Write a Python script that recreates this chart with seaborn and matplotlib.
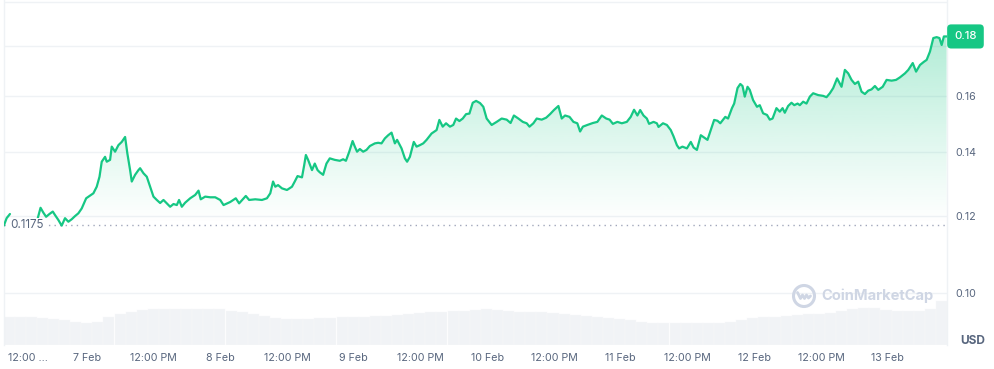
import numpy as np
import pandas as pd
import matplotlib
matplotlib.use("Agg")
import matplotlib.pyplot as plt
import matplotlib.transforms as mtransforms
from matplotlib.path import Path
from matplotlib.patches import Ellipse
from matplotlib.lines import Line2D
from matplotlib.ticker import NullLocator
import seaborn as sns

# ---------------- data (hours since 6 Feb 00:00, price in USD) ----------------
hours = [9.1, 9.6, 10.2,
         15.2, 15.7, 16.2, 16.7, 17.3, 17.9, 18.3, 18.9, 19.5, 20.1, 20.7, 21.3, 21.9, 22.5,
         23.1, 23.9, 24.5, 25.2, 25.8, 26.3, 26.7, 27.3, 27.6, 28.2, 28.5, 29.1, 29.7, 30.3, 30.9,
         31.3, 31.8, 32.1, 32.7, 33.3, 33.6, 34.2, 34.8, 35.4, 36.0, 36.6, 37.2,
         37.8, 38.4, 39.0, 39.6, 40.2, 40.6, 41.1, 41.7, 42.6, 43.5, 44.1, 44.5,
         45.3, 46.2, 47.1, 48.0, 48.6, 49.8, 50.8, 51.4, 52.6, 53.2, 54.3, 55.5, 56.4,
         57.0, 57.5, 57.9, 58.4, 59.1, 60.0, 60.9, 61.4, 61.9, 62.7, 63.1, 63.4, 63.8, 64.5, 65.0, 65.5, 65.9,
         66.5, 67.1, 67.7, 68.6, 69.5, 70.1, 70.6, 71.2, 71.8, 72.2, 72.6, 73.1, 73.7, 74.3, 74.9, 75.8, 76.4, 77.0, 77.6, 78.2, 78.8,
         79.4, 79.8, 80.6, 81.2, 81.6, 82.1, 82.8, 83.3, 83.9, 84.5, 85.1, 86.0, 86.9, 87.4,
         88.0, 88.6, 89.3, 89.9, 90.4, 91.0, 91.6, 92.2, 92.8, 93.4, 94.0, 94.7,
         95.3, 95.9, 96.8, 97.7, 98.6, 99.5, 100.2, 100.8, 101.6, 102.4, 103.1, 103.6, 104.3, 104.9, 105.8,
         106.6, 107.3, 108.0, 108.8, 109.4, 110.0, 110.8, 111.5, 112.2, 112.7, 113.2, 114.0, 115.0, 115.8,
         116.6, 117.4, 118.0, 118.6, 119.4, 120.2, 121.1, 121.8, 122.4, 123.0, 123.5,
         124.1, 124.7, 125.1, 125.9, 126.5, 126.8, 127.6, 128.3, 129.0, 129.5, 130.1, 130.5, 131.1, 131.9, 132.6, 133.1, 133.7,
         134.4, 135.0, 135.6, 136.2, 136.8, 137.4, 137.9, 138.8, 139.3, 140.0, 140.4, 141.0, 141.5, 141.9, 142.3, 142.8, 143.2,
         143.8, 144.5, 145.0, 145.6, 146.3, 146.8, 147.3, 148.0, 148.6, 149.1, 149.5, 150.1, 150.7, 151.2, 151.8, 152.2,
         152.8, 153.4, 154.0, 154.6, 155.5, 156.4, 157.0, 157.6, 158.2, 158.9, 159.7, 160.3, 160.9, 161.5, 162.1, 162.7,
         163.3, 163.9, 164.5, 165.1, 165.7, 166.3, 167.1, 167.8, 168.7, 169.5, 170.2, 171.1,
         171.7, 172.5, 173.1, 173.8, 174.5, 175.0, 175.6, 176.2, 176.8, 177.3, 177.7, 178.1, 178.6]

price = [0.1174, 0.1195, 0.1207,
         0.1195, 0.1225, 0.1211, 0.1199, 0.1207, 0.1214, 0.1204, 0.1190, 0.1174, 0.1195, 0.1185, 0.1192, 0.1201, 0.1209,
         0.1223, 0.1253, 0.1260, 0.1268, 0.1288, 0.1319, 0.1367, 0.1383, 0.1367, 0.1373, 0.1417, 0.1400, 0.1422, 0.1433, 0.1450,
         0.1395, 0.1340, 0.1304, 0.1325, 0.1340, 0.1346, 0.1330, 0.1319, 0.1288, 0.1258, 0.1248, 0.1239,
         0.1248, 0.1238, 0.1228, 0.1236, 0.1233, 0.1248, 0.1228, 0.1240, 0.1253, 0.1263, 0.1276, 0.1250,
         0.1258, 0.1256, 0.1256, 0.1248, 0.1233, 0.1242, 0.1253, 0.1238, 0.1260, 0.1248, 0.1250, 0.1248, 0.1253,
         0.1268, 0.1304, 0.1288, 0.1293, 0.1283, 0.1278, 0.1288, 0.1304, 0.1321, 0.1317, 0.1356, 0.1389, 0.1373, 0.1340, 0.1361, 0.1340, 0.1333,
         0.1325, 0.1361, 0.1378, 0.1373, 0.1370, 0.1375, 0.1370, 0.1400, 0.1436, 0.1417, 0.1400, 0.1409, 0.1400, 0.1406, 0.1419, 0.1428, 0.1430, 0.1428, 0.1445, 0.1456, 0.1465,
         0.1428, 0.1440, 0.1411, 0.1378, 0.1367, 0.1383, 0.1433, 0.1417, 0.1422, 0.1428, 0.1440, 0.1462, 0.1474, 0.1510,
         0.1486, 0.1498, 0.1486, 0.1492, 0.1515, 0.1506, 0.1515, 0.1531, 0.1533, 0.1573, 0.1580, 0.1572,
         0.1558, 0.1515, 0.1492, 0.1503, 0.1515, 0.1511, 0.1499, 0.1526, 0.1515, 0.1503, 0.1498, 0.1486, 0.1498, 0.1515, 0.1511,
         0.1518, 0.1531, 0.1546, 0.1561, 0.1515, 0.1526, 0.1521, 0.1503, 0.1498, 0.1469, 0.1486, 0.1492, 0.1499, 0.1503,
         0.1526, 0.1515, 0.1511, 0.1496, 0.1503, 0.1498, 0.1503, 0.1521, 0.1547, 0.1526, 0.1546,
         0.1526, 0.1515, 0.1496, 0.1503, 0.1498, 0.1485, 0.1498, 0.1492, 0.1474, 0.1452, 0.1422, 0.1411, 0.1417, 0.1411, 0.1433, 0.1414, 0.1406,
         0.1456, 0.1448, 0.1440, 0.1474, 0.1510, 0.1507, 0.1498, 0.1521, 0.1515, 0.1553, 0.1570, 0.1629, 0.1645, 0.1637, 0.1596, 0.1634, 0.1622,
         0.1583, 0.1558, 0.1564, 0.1534, 0.1528, 0.1511, 0.1515, 0.1553, 0.1540, 0.1553, 0.1536, 0.1561, 0.1573, 0.1564, 0.1570, 0.1564,
         0.1577, 0.1570, 0.1596, 0.1609, 0.1602, 0.1599, 0.1594, 0.1609, 0.1629, 0.1667, 0.1634, 0.1701, 0.1687, 0.1661, 0.1645, 0.1654,
         0.1615, 0.1606, 0.1619, 0.1624, 0.1637, 0.1622, 0.1634, 0.1661, 0.1658, 0.1661, 0.1671, 0.1687,
         0.1701, 0.1729, 0.1694, 0.1721, 0.1734, 0.1742, 0.1777, 0.1835, 0.1839, 0.1835, 0.1805, 0.1842, 0.1842]

# volume per ~2-hour bin (arbitrary M USD units)
volume = [2.8, 2.8, 2.8, 2.7, 2.6, 2.5, 2.3, 2.2, 2.3, 2.8,
          3.1, 3.3, 3.5, 3.6, 3.6, 3.6, 3.6, 3.6, 3.6, 3.6,
          3.4, 3.3, 3.1, 2.9, 2.7, 2.6, 2.6, 2.6, 2.7, 2.7,
          2.8, 2.8, 2.8, 2.9, 2.9, 3.0, 3.1, 3.2, 3.3, 3.3,
          3.4, 3.4, 3.5, 3.6, 3.5, 3.4, 3.3, 3.3, 3.3, 3.2,
          3.1, 3.0, 2.9, 2.8, 2.7, 2.6, 2.5, 2.3, 2.2, 2.2,
          2.2, 2.2, 2.2, 2.2, 2.2, 2.3, 2.5, 2.7, 2.8, 2.8,
          2.9, 3.0, 3.1, 3.1, 3.2, 3.4, 3.6, 3.7, 3.7, 3.5,
          3.4, 3.4, 3.4, 3.6, 4.4]

tick_hours = [12, 24, 36, 48, 60, 72, 84, 96, 108, 120, 132, 144, 156, 168]
tick_labels = ["12:00 ...", "7 Feb", "12:00 PM", "8 Feb", "12:00 PM", "9 Feb", "12:00 PM",
               "10 Feb", "12:00 PM", "11 Feb", "12:00 PM", "12 Feb", "12:00 PM", "13 Feb"]
price_ticks = [0.10, 0.12, 0.14, 0.16, 0.18, 0.20]
price_tick_labels = ["0.10", "0.12", "0.14", "0.16", "", ""]
baseline = 0.1175

# ---------------- styling ----------------
GREEN = "#16c784"
GREY_TXT = "#58667e"
GRID = "#eff2f5"

sns.set_theme(style="white")
plt.rcParams["font.family"] = ["Inter", "DejaVu Sans"]

W, H = 994, 369
fig = plt.figure(figsize=(W / 100, H / 100), dpi=100)
pos = [3.5 / W, 24 / H, (947 - 3.5) / W, 345 / H]
XMIN, XMAX = 9.04, 178.66
YMIN, YMAX = 0.08836, 0.2009

# volume axes (behind)
axv = fig.add_axes(pos, zorder=0)
n = len(volume)
step = (XMAX - XMIN) / n
vol_x = XMIN + step * (np.arange(n) + 0.5)
vdf = pd.DataFrame({"t": vol_x, "vol": volume})
sns.barplot(data=vdf, x="t", y="vol", native_scale=True, width=1.0, color="#f1f3f6",
            saturation=1, edgecolor="#f8f9fb", linewidth=0.25, errorbar=None, ax=axv)
axv.set_xlim(XMIN, XMAX)
axv.set_ylim(0, 34.5)
axv.set_axis_off()

# price axes
ax = fig.add_axes(pos, zorder=1)
ax.patch.set_alpha(0)

h = np.array(hours)
p = np.array(price)
seg = np.concatenate([[0], np.cumsum(np.diff(h) > 3)])
df = pd.DataFrame({"hour": h, "price": p, "seg": seg})

ax.set_yscale("log")

# gradient fill between line and baseline
paths = []
for s in np.unique(seg):
    m = seg == s
    coll = ax.fill_between(h[m], p[m], baseline, where=p[m] >= baseline, interpolate=True,
                           facecolor="none", edgecolor="none", linewidth=0)
    paths.extend(coll.get_paths())
compound = Path.make_compound_path(*paths)
base_frac = 1 - 225.3 / 345
ng = 256
tgrad = np.linspace(0, 1, ng)
rgba = np.zeros((ng, 1, 4))
rgba[:, 0, 0:3] = matplotlib.colors.to_rgb(GREEN)
rgba[:, 0, 3] = 0.0 + 0.40 * tgrad ** 1.1
im = ax.imshow(rgba, extent=[0, 1, base_frac, 1], transform=ax.transAxes, aspect="auto",
               origin="lower", zorder=1, interpolation="bilinear")
im.set_clip_path(compound, ax.transData)

sns.lineplot(data=df, x="hour", y="price", units="seg", estimator=None, color=GREEN,
             linewidth=1.6, ax=ax, legend=False, zorder=3)

ax.set_xlim(XMIN, XMAX)
ax.set_ylim(YMIN, YMAX)
ax.set_xlabel("")
ax.set_ylabel("")

ax.yaxis.tick_right()
ax.set_yticks(price_ticks)
ax.set_yticklabels(price_tick_labels)
ax.yaxis.set_minor_locator(NullLocator())
ax.tick_params(axis="y", length=0, pad=6, labelsize=7.7, colors=GREY_TXT)
ax.grid(axis="y", color=GRID, linewidth=1)
ax.grid(axis="x", visible=False)
ax.set_axisbelow(True)

ax.set_xticks(tick_hours)
ax.set_xticklabels(tick_labels)
ax.tick_params(axis="x", length=0, pad=6, labelsize=7.7, colors=GREY_TXT)
lbl0 = ax.get_xticklabels()[0]
lbl0.set_transform(lbl0.get_transform() + mtransforms.ScaledTranslation(7.5 / 100, 0, fig.dpi_scale_trans))

for side in ["top", "bottom"]:
    ax.spines[side].set_visible(False)
for side in ["left", "right"]:
    ax.spines[side].set_color(GRID)
    ax.spines[side].set_linewidth(1)

# dotted baseline + label
ax.axhline(baseline, color="#a1a7bb", linewidth=1, linestyle=(0, (1, 3)), zorder=2)
blend = mtransforms.blended_transform_factory(ax.transAxes, ax.transData)
ax.text(0.0076, baseline, f"{baseline:.4f}", transform=blend, ha="left", va="center",
        fontsize=8.4, color=GREY_TXT, zorder=4,
        bbox=dict(facecolor="white", edgecolor="none", pad=1.0))

# current price badge
ax.annotate(f"{price[-1]:.2f}", xy=(1, price[-1]), xycoords=("axes fraction", "data"),
            xytext=(5.2, 0), textcoords="offset points", ha="left", va="center",
            color="white", fontsize=8.2, fontweight="medium", annotation_clip=False,
            bbox=dict(boxstyle="round,pad=0.62,rounding_size=0.35", facecolor=GREEN, edgecolor="none"))

# USD label
fig.text(985 / W, 1 - 341.5 / H, "USD", ha="right", va="center", fontsize=8.6,
         fontweight="bold", color=GREY_TXT)

# watermark
WM = "#cfd6e4"
cx, cy = 804 / W, 1 - 296 / H
fig.add_artist(Ellipse((cx, cy), 21 / W, 21 / H, transform=fig.transFigure,
                       facecolor="none", edgecolor=WM, linewidth=2.2, zorder=5))
wx = np.array([-6.5, -3.5, -1.5, 0.5, 2.5, 4.5, 6.5])
wy = np.array([3.5, -2.5, 1.0, -2.5, 1.0, -2.0, 0.0])
fig.add_artist(Line2D(cx + wx / W, cy + wy / H, transform=fig.transFigure, color=WM,
                      linewidth=2.0, solid_capstyle="round", solid_joinstyle="round", zorder=5))
fig.text(821 / W, cy, "CoinMarketCap", ha="left", va="center", fontsize=10.6,
         fontweight="bold", color=WM, zorder=5)

fig.savefig("out.png", dpi=100)
